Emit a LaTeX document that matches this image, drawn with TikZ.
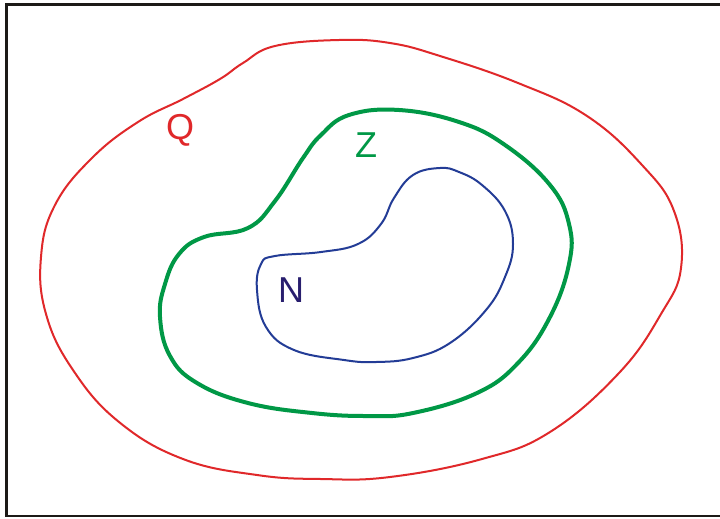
\documentclass[tikz,border=0pt]{standalone}
\usepackage{fontspec}
\setmainfont{Liberation Sans}
\definecolor{qred}{RGB}{224,40,42}
\definecolor{zgreen}{RGB}{0,152,70}
\definecolor{nblue}{RGB}{35,60,150}
\definecolor{nlabel}{RGB}{40,30,110}
\definecolor{frame}{RGB}{28,26,23}
\begin{document}
\begin{tikzpicture}[x=0.75pt,y=-0.75pt,
  setline/.style={line join=round},
  lbl/.style={font=\fontsize{27}{27}\selectfont, inner sep=0pt, anchor=center}]
\useasboundingbox (0,0) rectangle (720,518);
\fill[white] (0,0) rectangle (720,518);
% frame (no right side)
\draw[frame, line width=2.2pt] (720,4.7) -- (6.5,4.7) -- (6.5,516) -- (720,516);
% Q
\draw[qred, line width=1.5pt, setline] plot[smooth cycle, tension=0.7] coordinates {
 (339,40) (275,46) (243,63) (220,79) (183,99) (138,122) (92,158) (55,205)
 (41,257) (46,314) (73,370) (119,422) (183,459) (257,475) (321,479) (390,477)
 (482,459) (550,432) (619,373) (661,314) (681,268) (674,211)
 (642,165) (587,116) (518,83) (440,56) (390,43)};
% Z
\draw[zgreen, line width=3pt, setline] plot[smooth cycle, tension=0.7] coordinates {
 (399,110) (459,122) (505,145) (550,185) (569,224) (569,264) (550,317)
 (518,363) (477,393) (413,413) (367,416) (312,413) (248,403) (197,383)
 (170,356) (160,317) (165,284) (179,254) (204,237) (248,228)
 (275,201) (303,158) (321,135) (349,115)};
% N
\draw[nblue, line width=1.5pt, setline] plot[smooth cycle, tension=0.7] coordinates {
 (440,168) (413,175) (394,198) (381,224) (358,244) (321,252) (275,256)
 (261,264) (257,290) (266,327) (294,350) (344,360) (376,362) (413,358)
 (450,343) (486,310) (505,277) (513,244) (505,211) (482,185) (459,172)};
\node[lbl, text=qred] (q) at (180,130) {Q};
\node[lbl, text=zgreen] (z) at (366,145) {Z};
\node[lbl, text=nlabel] (n) at (291,290) {N};
\end{tikzpicture}
\end{document}
